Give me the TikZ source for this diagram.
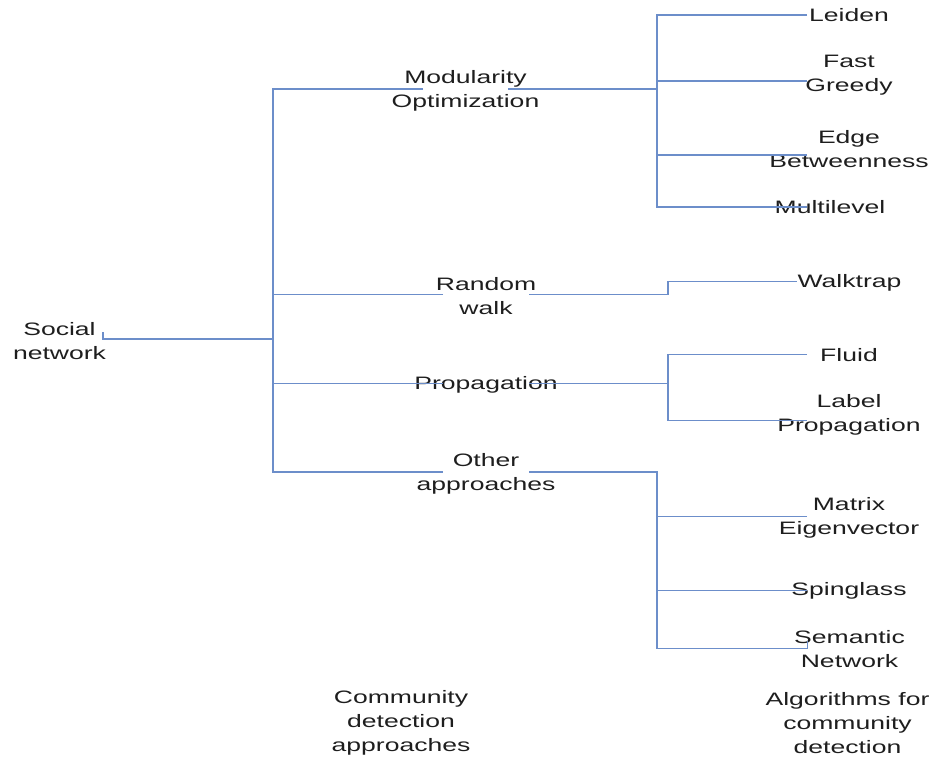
\documentclass[tikz,border=0pt]{standalone}
\usepackage{fontspec}
\setmainfont{Liberation Sans}[FakeStretch=1.475]
\usetikzlibrary{positioning}
\definecolor{linkblue}{RGB}{108,142,202}
\definecolor{labelgray}{RGB}{30,30,30}
% a line of text that may spill past the box edges on both sides
\newcommand\spill[1]{\makebox[0pt]{#1}}
\tikzset{
  link/.style={draw=linkblue, line width=1.4pt},
  lbl/.style={inner sep=0pt, outer sep=0pt, align=center, text=labelgray,
              font=\fontsize{18}{24}\selectfont},
  approach/.style={lbl, minimum width=86pt},
  algo/.style={lbl, minimum width=84pt},
}
\begin{document}
\begin{tikzpicture}[x=1pt, y=-1pt]
\useasboundingbox (0,0) rectangle (936,756);

% root
\node[lbl, minimum width=87pt] (soc) at (59.5,341) {\spill{Social}\\\spill{network}};

% approaches
\node[approach, minimum width=85pt] (mod) at (465.5,90.5) {\spill{Modularity}\\\spill{Optimization}};
\node[approach] (rw) at (486,296) {\spill{Random}\\\spill{walk}};
\node[approach] (pr) at (486,384.5) {\spill{Propagation}};
\node[approach] (oa) at (486,473.5) {\spill{Other}\\\spill{approaches}};

% algorithms
\node[algo] (lei) at (849,15.5) {\spill{Leiden}};
\node[algo] (fg) at (849,75.5) {\spill{Fast}\\\spill{Greedy}};
\node[algo] (eb) at (849,149.5) {\spill{Edge}\\\spill{Betweenness}};
\node[algo, minimum width=46pt] (ml) at (830,207.5) {\spill{Multilevel}};
\node[algo, minimum width=105pt] (wt) at (849.5,282.5) {\spill{Walktrap}};
\node[algo] (fl) at (849,355.5) {\spill{Fluid}};
\node[algo] (lp) at (849,414.5) {\spill{Label}\\\spill{Propagation}};
\node[algo] (me) at (849,517.5) {\spill{Matrix}\\\spill{Eigenvector}};
\node[algo] (sg) at (849,591) {\spill{Spinglass}};
\node[algo] (sn) at (849.5,649.5) {\spill{Semantic}\\\spill{Network}};

% column captions
\node[lbl] (capA) at (401,723) {Community\\detection\\approaches};
\node[lbl] (capB) at (847.5,723) {Algorithms for\\community\\detection};

% junction points of the tree
\coordinate (trunk) at (273,339);
\coordinate (mhub) at (657,89);
\coordinate (whub) at (668,288);
\coordinate (phub) at (668,383.5);
\coordinate (ohub) at (657,648.5);

% root to trunk
\draw[link] ([yshift=9pt]soc.east) |- (trunk);
\draw[link] ([yshift=1.5pt]mod.west) -| (trunk) |- ([yshift=1.5pt]oa.west);
\draw[link] ([yshift=1.5pt]rw.west) -- ([yshift=1.5pt]rw.west -| trunk);
\draw[link] ([yshift=1pt]pr.west) -- ([yshift=1pt]pr.west -| trunk);

% modularity optimization
\draw[link] ([yshift=1.5pt]mod.east) -- (mhub);
\draw[link] ([yshift=0.5pt]lei.west) -| (mhub) |- ([yshift=0.5pt]ml.west);
\draw[link] ([yshift=-5.5pt]fg.west) -- ([yshift=-5.5pt]fg.west -| mhub);
\draw[link] ([yshift=-5.5pt]eb.west) -- ([yshift=-5.5pt]eb.west -| mhub);

% random walk
\draw[link] ([yshift=1.5pt]rw.east) -- ([yshift=1.5pt]rw.east -| whub) |- ([yshift=1pt]wt.west);

% propagation
\draw[link] ([yshift=1pt]pr.east) -- (phub);
\draw[link] ([yshift=1pt]fl.west) -| (phub) |- ([yshift=-6pt]lp.west);

% other approaches
\draw[link] ([yshift=1.5pt]oa.east) -| (ohub) -- ([yshift=1pt]sn.west) -- ([yshift=9pt]sn.west);
\draw[link] ([yshift=1pt]me.west) -- ([yshift=1pt]me.west -| ohub);
\draw[link] ([yshift=0.5pt]sg.west) -- ([yshift=0.5pt]sg.west -| ohub);
\end{tikzpicture}
\end{document}
